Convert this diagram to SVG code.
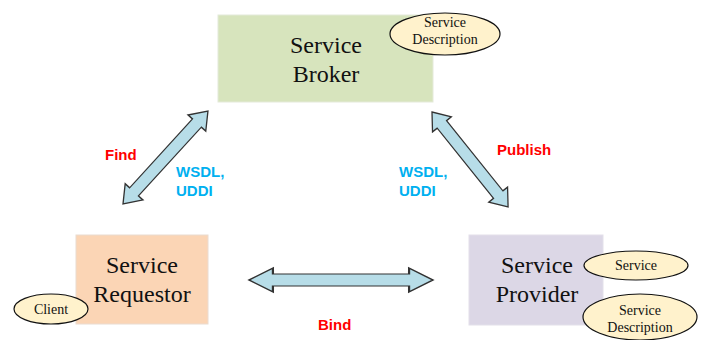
<svg xmlns="http://www.w3.org/2000/svg" width="701" height="340" viewBox="0 0 701 340">
  <style>
    .box-text { font-family: "Liberation Serif", "Times New Roman", serif; font-size: 24px; fill: #111; text-anchor: middle; }
    .tag { fill: #fff2cc; stroke: #111; stroke-width: 1.2; }
    .tag-text { font-family: "Liberation Serif", "Times New Roman", serif; font-size: 14px; fill: #111; text-anchor: middle; }
    .arrow { fill: #b7dde8; stroke: #333; stroke-width: 1.2; stroke-linejoin: miter; }
    .label { font-family: "Liberation Sans", Arial, sans-serif; font-size: 15px; font-weight: bold; }
    .red { fill: #ff0000; }
    .blue { fill: #00b0f0; }
  </style>
  <defs>
    <!-- double-headed block arrow, 100 units long along the x axis -->
    <path id="dbl" d="M0,0 L13,-12 L13,-6 L87,-6 L87,-12 L100,0 L87,12 L87,6 L13,6 L13,12 Z"/>
  </defs>
  <rect width="701" height="340" fill="#ffffff"/>

  <g id="broker">
    <rect x="218" y="15" width="215" height="87" fill="#d7e4bd" stroke="#e4ead9" stroke-width="1"/>
    <text class="box-text" x="326" y="53">Service</text>
    <text class="box-text" x="326" y="82">Broker</text>
    <ellipse class="tag" cx="445" cy="34" rx="55" ry="21"/>
    <text class="tag-text" x="445" y="27">Service</text>
    <text class="tag-text" x="445" y="44">Description</text>
  </g>

  <g id="requestor">
    <rect x="76" y="235" width="132" height="89" fill="#fbd5b5" stroke="#eadbd0" stroke-width="1"/>
    <text class="box-text" x="142" y="273">Service</text>
    <text class="box-text" x="142" y="302">Requestor</text>
    <ellipse class="tag" cx="51" cy="309" rx="37" ry="15"/>
    <text class="tag-text" x="51" y="314">Client</text>
  </g>

  <g id="provider">
    <rect x="469" y="235" width="134" height="90" fill="#dcd7e6" stroke="#e3e0ea" stroke-width="1"/>
    <text class="box-text" x="537" y="273">Service</text>
    <text class="box-text" x="537" y="302">Provider</text>
    <ellipse class="tag" cx="636" cy="265.5" rx="52" ry="14.5"/>
    <text class="tag-text" x="636" y="270">Service</text>
    <ellipse class="tag" cx="640" cy="317" rx="57" ry="23"/>
    <text class="tag-text" x="640" y="315">Service</text>
    <text class="tag-text" x="640" y="332">Description</text>
  </g>

  <g id="connectors">
    <!-- Find: requestor <-> broker -->
    <use href="#dbl" class="arrow" transform="translate(123,204) rotate(-47.6) scale(1.26,1)"/>
    <!-- Publish: broker <-> provider -->
    <use href="#dbl" class="arrow" transform="translate(432,112) rotate(51.3) scale(1.217,1)"/>
    <!-- Bind: requestor <-> provider -->
    <use href="#dbl" class="arrow" transform="translate(249,280) scale(1.84,1)"/>
  </g>

  <g id="labels">
    <text class="label red" x="105" y="160">Find</text>
    <text class="label blue" x="176" y="177">WSDL,</text>
    <text class="label blue" x="176" y="196">UDDI</text>
    <text class="label blue" x="399" y="177">WSDL,</text>
    <text class="label blue" x="399" y="196">UDDI</text>
    <text class="label red" x="497" y="155">Publish</text>
    <text class="label red" x="318" y="330">Bind</text>
  </g>
</svg>
